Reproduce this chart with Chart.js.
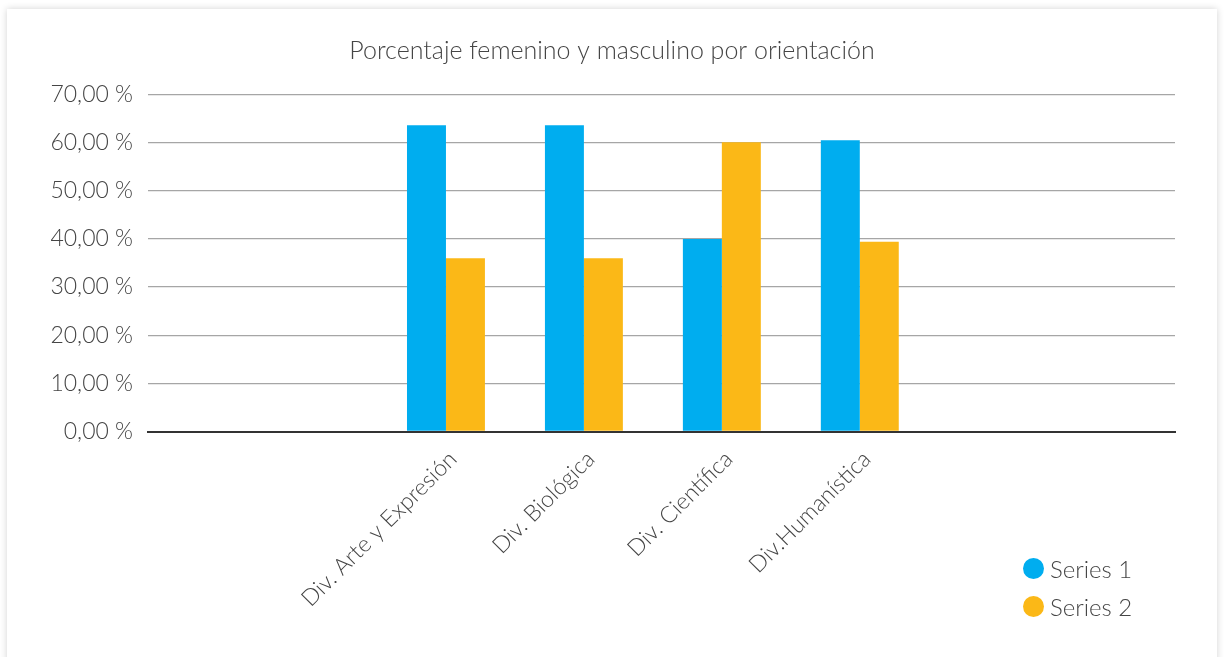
<!DOCTYPE html>
<html>
<head>
<meta charset="utf-8">
<script src="https://cdn.jsdelivr.net/npm/chart.js@4.4.0/dist/chart.umd.min.js"></script>
<style>
  html, body { margin: 0; padding: 0; background: #fff; overflow: hidden; }
  body { width: 1224px; height: 657px; position: relative; font-family: Lato, sans-serif; }
  .card { position: absolute; left: 7px; top: 9px; width: 1210px; height: 700px; background: #fff;
          box-shadow: 0 0 7px rgba(0,0,0,0.18); }
  #sexChart { position: absolute; left: 0; top: 0; }
  #legend { position: absolute; left: 1023px; top: 550px; color: #454545; font-weight: 300; font-size: 24px; }
  #legend .item { display: flex; align-items: center; height: 37.5px; }
  #legend .dot { width: 21px; height: 21px; border-radius: 50%; margin-right: 6px; }
</style>
</head>
<body>
<div class="card"></div>
<canvas id="sexChart" width="1224" height="657"></canvas>
<div id="legend"></div>
<script>
const categories = ['Div. Arte y Expresión', 'Div. Biológica', 'Div. Científica', 'Div.Humanística'];
const series1 = [63.6, 63.6, 40.0, 60.5];
const series2 = [36.0, 36.0, 60.1, 39.4];
const seriesNames = ['Series 1', 'Series 2'];
const seriesColors = ['#00adef', '#fbb817'];
const yTicks = [0, 10, 20, 30, 40, 50, 60, 70];

Chart.defaults.font.family = 'Lato';
Chart.defaults.font.weight = 300;
Chart.defaults.color = '#454545';

function toPoints(values) {
  return values.map((v, i) => ({ x: i, y: v }));
}

const ctx = document.getElementById('sexChart').getContext('2d');
const chart = new Chart(ctx, {
  type: 'bar',
  data: {
    datasets: [
      { label: seriesNames[0], data: toPoints(series1), backgroundColor: seriesColors[0] },
      { label: seriesNames[1], data: toPoints(series2), backgroundColor: seriesColors[1] }
    ]
  },
  options: {
    responsive: false,
    animation: false,
    layout: { padding: { top: 18, left: 49, right: 49, bottom: 0 } },
    datasets: { bar: { barPercentage: 1, categoryPercentage: 0.565 } },
    plugins: {
      legend: { display: false },
      tooltip: { enabled: false },
      title: {
        display: true,
        text: 'Porcentaje femenino y masculino por orientación',
        color: '#454545',
        font: { size: 25, weight: 300 },
        padding: { top: 18, bottom: 28.5 }
      }
    },
    scales: {
      x: {
        type: 'linear',
        offset: false,
        min: -2.16,
        max: 5.285,
        afterBuildTicks: (axis) => { axis.ticks = categories.map((c, i) => ({ value: i })); },
        afterFit: (axis) => { axis.height = 225.5; },
        grid: { display: false },
        border: { color: '#333', width: 2 },
        ticks: {
          autoSkip: false,
          minRotation: 45,
          maxRotation: 45,
          padding: 6,
          labelOffset: 7,
          font: { size: 23 },
          callback: (v) => categories[v]
        }
      },
      y: {
        min: 0,
        max: 70,
        afterBuildTicks: (axis) => { axis.ticks = yTicks.map(v => ({ value: v })); },
        afterFit: (axis) => { axis.width = 99; },
        border: { display: false },
        grid: { color: '#a6a6a6', lineWidth: 1.3, drawTicks: false },
        ticks: {
          padding: 15,
          font: { size: 23 },
          callback: (v) => v.toFixed(2).replace('.', ',') + ' %'
        }
      }
    }
  }
});

// legend as an html block at the bottom right
const legend = document.getElementById('legend');
chart.data.datasets.forEach(ds => {
  const row = document.createElement('div');
  row.className = 'item';
  row.innerHTML = '<span class="dot" style="background:' + ds.backgroundColor + '"></span><span>' + ds.label + '</span>';
  legend.appendChild(row);
});
</script>
</body>
</html>
